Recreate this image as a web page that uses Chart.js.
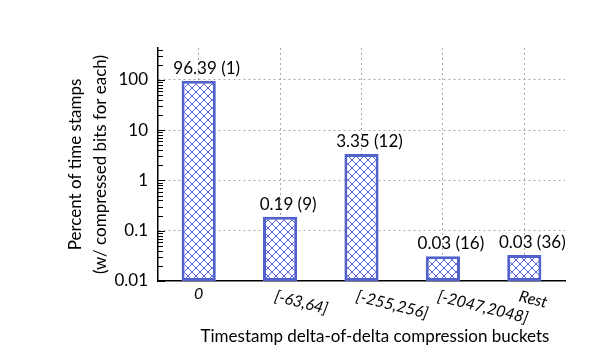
<!DOCTYPE html>
<html>
<head>
<meta charset="utf-8">
<script src="https://cdn.jsdelivr.net/npm/chart.js@4/dist/chart.umd.min.js"></script>
<style>
html,body{margin:0;padding:0;background:#fff;}
#wrap{width:615px;height:364px;}
</style>
</head>
<body>
<div id="wrap"><canvas id="c" width="615" height="364"></canvas></div>
<script>
const categories = ["0", "[-63,64]", "[-255,256]", "[-2047,2048]", "Rest"];
const percentValues = [96.39, 0.19, 3.35, 0.031, 0.033];
const valueLabels = ["96.39", "0.19", "3.35", "0.03", "0.03"];
const bitsUsed = [1, 9, 12, 16, 36];
const yTickValues = [0.01, 0.1, 1, 10, 100];
const yTickLabels = ["0.01", "0.1", "1", "10", "100"];
const yTitleLines = ["Percent of time stamps", "(w/ compressed bits for each)"];
const xTitle = "Timestamp delta-of-delta compression buckets";

const BLUE = "#5262cc";
const FONT = "Lato, 'Open Sans', sans-serif";

function makePattern() {
  const s = 8;
  const pc = document.createElement("canvas");
  pc.width = s; pc.height = s;
  const g = pc.getContext("2d");
  g.fillStyle = "#ffffff";
  g.fillRect(0, 0, s, s);
  g.strokeStyle = BLUE;
  g.lineWidth = 1;
  g.beginPath();
  g.moveTo(0, 0); g.lineTo(s, s);
  g.moveTo(s, 0); g.lineTo(0, s);
  g.stroke();
  return document.getElementById("c").getContext("2d").createPattern(pc, "repeat");
}

const decorPlugin = {
  id: "decor",
  afterDatasetsDraw(chart) {
    const ctx = chart.ctx;
    const y = chart.scales.y, x = chart.scales.x;
    const area = chart.chartArea;
    ctx.save();
    ctx.strokeStyle = "#000";
    ctx.lineWidth = 1;
    for (let e = -2; e <= 2; e++) {
      for (let m = 1; m <= 9; m++) {
        const v = m * Math.pow(10, e);
        if (v > y.max) continue;
        const py = Math.round(y.getPixelForValue(v)) + 0.5;
        const len = m === 1 ? 7 : 5;
        ctx.beginPath();
        ctx.moveTo(area.left, py);
        ctx.lineTo(area.left + len, py);
        ctx.stroke();
      }
    }
    ctx.fillStyle = "#000";
    ctx.font = "17px " + FONT;
    ctx.textAlign = "center";
    ctx.textBaseline = "alphabetic";
    const meta = chart.getDatasetMeta(0);
    meta.data.forEach((bar, i) => {
      ctx.fillText(valueLabels[i] + " (" + bitsUsed[i] + ")", bar.x + 8, bar.y - 7);
    });
    ctx.font = "italic 16px " + FONT;
    ctx.textAlign = "left";
    ctx.textBaseline = "middle";
    categories.forEach((lab, i) => {
      const px = x.getPixelForTick(i);
      ctx.save();
      if (i === 0) {
        ctx.textAlign = "center";
        ctx.translate(px, area.bottom + 13);
      } else {
        ctx.translate(px - 5, area.bottom + 15);
        ctx.rotate(14 * Math.PI / 180);
      }
      ctx.fillText(lab, 0, 0);
      ctx.restore();
    });
    ctx.font = "17px " + FONT;
    ctx.textAlign = "center";
    ctx.textBaseline = "middle";
    ctx.fillText(xTitle, 375, 337);
    ctx.save();
    ctx.translate(76, (area.top + area.bottom) / 2);
    ctx.rotate(-Math.PI / 2);
    ctx.fillText(yTitleLines[0], 0, 0);
    ctx.fillText(yTitleLines[1], 0, 25);
    ctx.restore();
    ctx.restore();
  }
};

new Chart(document.getElementById("c"), {
  type: "bar",
  data: {
    labels: categories,
    datasets: [{
      data: percentValues,
      backgroundColor: makePattern(),
      borderColor: BLUE,
      borderWidth: 3,
      borderSkipped: false,
      barPercentage: 0.42,
      categoryPercentage: 1.0
    }]
  },
  options: {
    responsive: false,
    animation: false,
    events: [],
    layout: { padding: { left: 0, right: 50, top: 48, bottom: 0 } },
    plugins: { legend: { display: false }, tooltip: { enabled: false } },
    scales: {
      x: {
        offset: true,
        grid: {
          offset: false,
          color: "#aaaaaa",
          lineWidth: 1,
          drawTicks: false
        },
        border: { display: true, color: "#000", width: 1.5, dash: [2, 3] },
        ticks: { display: false },
        afterFit(s) { s.height = 83; }
      },
      y: {
        type: "logarithmic",
        min: 0.01,
        max: 430,
        afterBuildTicks(s) { s.ticks = yTickValues.map(v => ({ value: v, major: true })); },
        grid: {
          color: (c) => (c.tick && c.tick.value === 0.01) ? "rgba(0,0,0,0)" : "#aaaaaa",
          lineWidth: 1,
          drawTicks: false
        },
        border: { display: true, color: "#000", width: 1.5, dash: [2, 3] },
        ticks: {
          padding: 10,
          color: "#000",
          font: { family: FONT, size: 17 },
          callback: (v) => { const i = yTickValues.indexOf(v); return i >= 0 ? yTickLabels[i] : ""; }
        },
        afterFit(s) { s.width = 158; }
      }
    }
  },
  plugins: [decorPlugin]
});
</script>
</body>
</html>
